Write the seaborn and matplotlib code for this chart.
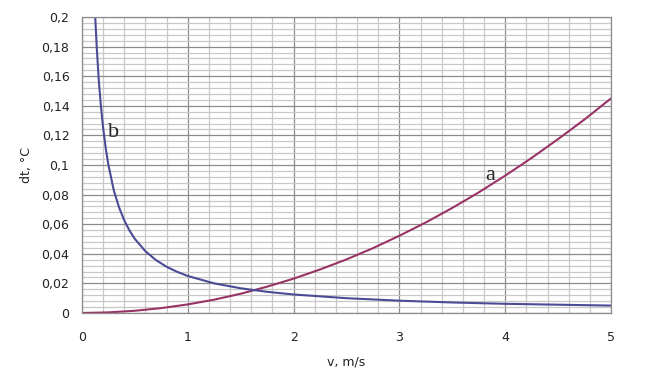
import pandas as pd
import matplotlib.pyplot as plt
import seaborn as sns
from matplotlib.ticker import MultipleLocator

# values
v_a = [0, 0.25, 0.5, 0.75, 1.0, 1.25, 1.5, 1.75, 2.0, 2.25, 2.5, 2.75, 3.0, 3.25, 3.5, 3.75, 4.0, 4.25, 4.5, 4.75, 5.0]
dt_a = [0, 0.0004, 0.0015, 0.0033, 0.0058, 0.009, 0.013, 0.0178, 0.0232, 0.0294, 0.0362, 0.0438, 0.0522, 0.0612, 0.071, 0.0815,
        0.0928, 0.1048, 0.1175, 0.1308, 0.145]

v_b = [0.125, 0.14, 0.16, 0.18, 0.2, 0.225, 0.25, 0.3, 0.35, 0.4, 0.45, 0.5, 0.6, 0.7, 0.8, 0.9, 1.0, 1.25, 1.5, 1.75,
       2.0, 2.5, 3.0, 3.5, 4.0, 4.5, 5.0]
dt_b = [0.2, 0.179, 0.156, 0.139, 0.125, 0.111, 0.1, 0.083, 0.0714, 0.0625, 0.0556, 0.05, 0.0417, 0.0357, 0.0312, 0.0278,
        0.025, 0.02, 0.0167, 0.0143, 0.0125, 0.01, 0.0083, 0.0071, 0.0062, 0.0056, 0.005]

x_ticks = [0, 1, 2, 3, 4, 5]
y_ticks = [0, 0.02, 0.04, 0.06, 0.08, 0.1, 0.12, 0.14, 0.16, 0.18, 0.2]
y_tick_labels = ['0', '0,02', '0,04', '0,06', '0,08', '0,1', '0,12', '0,14', '0,16', '0,18', '0,2']

df_a = pd.DataFrame({'v': v_a, 'dt': dt_a})
df_b = pd.DataFrame({'v': v_b, 'dt': dt_b})

sns.set_style('white')
plt.rcParams['font.family'] = ['DejaVu Sans']

fig = plt.figure(figsize=(6.58, 3.76), dpi=100)
ax = fig.add_axes([0.1246, 0.1676, 0.804, 0.7872])

sns.lineplot(data=df_a, x='v', y='dt', ax=ax, color='#993366', linewidth=1.5)
sns.lineplot(data=df_b, x='v', y='dt', ax=ax, color='#4B4B96', linewidth=1.5)

ax.set_xlim(0, 5)
ax.set_ylim(0, 0.2)
ax.set_xticks(x_ticks)
ax.set_xticklabels([str(t) for t in x_ticks])
ax.set_yticks(y_ticks)
ax.set_yticklabels(y_tick_labels)
ax.xaxis.set_minor_locator(MultipleLocator(0.2))
ax.yaxis.set_minor_locator(MultipleLocator(0.004))

ax.grid(which='minor', color='#c8c8c8', linewidth=0.9)
ax.grid(which='major', color='#8c8c8c', linewidth=0.9)
ax.set_axisbelow(True)
for s in ax.spines.values():
    s.set_color('#8c8c8c')
    s.set_linewidth(0.9)

ax.tick_params(axis='both', which='major', direction='out', length=5, width=0.9,
               color='#8c8c8c', labelsize=9, labelcolor='#222222')
ax.tick_params(axis='y', pad=4)
ax.tick_params(axis='x', pad=8)
ax.tick_params(which='minor', length=0)

ax.set_xlabel('v, m/s', fontsize=9, labelpad=8, color='#222222')
ax.set_ylabel('dt, °C', fontsize=9, labelpad=6, color='#222222')

# curve labels
ax.text(0.30, 0.1191, 'b', fontsize=16, family=['Liberation Serif'], ha='center', va='baseline')
ax.text(3.856, 0.0899, 'a', fontsize=16, family=['Liberation Serif'], ha='center', va='baseline')

fig.savefig('out.png', dpi=100)
